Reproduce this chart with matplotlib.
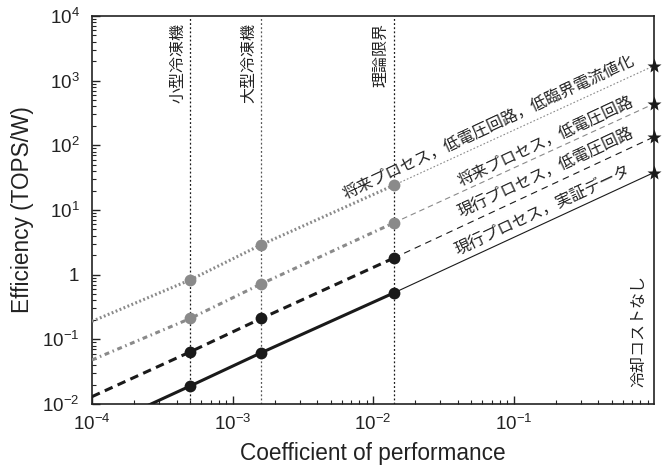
import math
import matplotlib
matplotlib.use("Agg")
import matplotlib.pyplot as plt
import matplotlib.ticker as mticker
import matplotlib.transforms as mtransforms

plt.rcParams['font.family'] = ['Liberation Sans', 'Noto Sans CJK JP']
plt.rcParams['mathtext.default'] = 'regular'

# ---- data ----
cop_points = [5e-4, 1.6e-3, 1.4e-2]          # 小型冷凍機, 大型冷凍機, 理論限界
cop_start = 1e-4
cop_end = 1.0                                 # 冷却コストなし

s1_vals = [0.019, 0.062, 0.52]   # 現行プロセス，実証データ
s2_vals = [0.064, 0.21, 1.8]     # 現行プロセス，低電圧回路
s3_vals = [0.21, 0.72, 6.3]      # 将来プロセス，低電圧回路
s4_vals = [0.83, 2.9, 24.0]      # 将来プロセス，低電圧回路，低臨界電流値化

s1_start, s2_start, s3_start, s4_start = 0.0038, 0.013, 0.048, 0.19
s1_end, s2_end, s3_end, s4_end = 38.0, 135.0, 440.0, 1700.0

vline_labels = ['小型冷凍機', '大型冷凍機', '理論限界']
series_labels = ['現行プロセス，実証データ', '現行プロセス，低電圧回路',
                 '将来プロセス，低電圧回路', '将来プロセス，低電圧回路，低臨界電流値化']
nocost_label = '冷却コストなし'

xtick_vals = [1e-4, 1e-3, 1e-2, 1e-1]
ytick_vals = [1e-2, 1e-1, 1, 1e1, 1e2, 1e3, 1e4]

# ---- figure ----
fig = plt.figure(figsize=(6.65, 4.7), dpi=100)
ax = fig.add_axes([92/665, 66/470, 562/665, 388/470])
ax.set_xscale('log')
ax.set_yscale('log')
ax.set_xlim(1e-4, 1)
ax.set_ylim(1e-2, 1e4)

gray = '#8a8a8a'
black = '#1a1a1a'

# vertical reference lines
vcolors = [black, '#555555', black]
for c, vc in zip(cop_points, vcolors):
    ax.axvline(c, color=vc, lw=0.9, ls=(0, (1.5, 1.8)), zorder=1)

series = [
    (s1_start, s1_vals, s1_end, black, dict(ls='-'), dict(ls='-')),
    (s2_start, s2_vals, s2_end, black, dict(dashes=(2.8, 1.8)), dict(dashes=(6, 4.5))),
    (s3_start, s3_vals, s3_end, gray, dict(dashes=(1.6, 1.2, 0.5, 1.2)), dict(dashes=(5, 3.5))),
    (s4_start, s4_vals, s4_end, gray, dict(dashes=(0.6, 0.8)), dict(dashes=(1.5, 1.8))),
]

for start, vals, end, col, thick_style, thin_style in series:
    xs = [cop_start] + cop_points
    ys = [start] + vals
    ax.plot(xs, ys, color=col, lw=2.2, solid_capstyle='butt', dash_capstyle='butt',
            zorder=3, **thick_style)
    ax.plot([cop_points[-1], cop_end], [vals[-1], end], color=col,
            lw=0.8, zorder=3, **thin_style)
    ax.plot(cop_points, vals, 'o', color=col, ms=8.5, mec='none', zorder=4)
    ax.plot([cop_end], [end], marker='*', color=black, ms=11, mec='none',
            clip_on=False, zorder=5)

# series labels
label_pos = [(0.163, 9.7), (0.171, 37.7), (0.171, 114), (0.0665, 186)]
for (lx, ly), txt in zip(label_pos, series_labels):
    ax.text(lx, ly, txt, rotation=25, rotation_mode='anchor', ha='center', va='center',
            fontsize=11.5, family=['Noto Sans CJK JP'], color='#222222', zorder=6)

# vertical labels
trans = mtransforms.blended_transform_factory(ax.transData, ax.transAxes)
for c, txt in zip(cop_points, vline_labels):
    ax.annotate(txt, xy=(c, 1), xycoords=trans, xytext=(-3, -5), textcoords='offset points',
                rotation=90, ha='right', va='top', fontsize=11.5,
                family=['Noto Sans CJK JP'], color='#222222')

ax.annotate(nocost_label, xy=(1, 0), xycoords='axes fraction', xytext=(-5, 12),
            textcoords='offset points', rotation=90, ha='right', va='bottom',
            fontsize=11.5, family=['Noto Sans CJK JP'], color='#222222')

# ticks
def yfmt(v, pos):
    e = int(round(math.log10(v)))
    return '1' if e == 0 else r'$\mathregular{10^{%d}}$' % e

def xfmt(v, pos):
    e = int(round(math.log10(v)))
    return r'$\mathregular{10^{%d}}$' % e

ax.set_xticks(xtick_vals)
ax.set_yticks(ytick_vals)
ax.xaxis.set_major_formatter(mticker.FuncFormatter(xfmt))
ax.yaxis.set_major_formatter(mticker.FuncFormatter(yfmt))
ax.xaxis.set_minor_locator(mticker.LogLocator(base=10, subs=range(2, 10), numticks=20))
ax.yaxis.set_minor_locator(mticker.LogLocator(base=10, subs=range(2, 10), numticks=20))
ax.xaxis.set_minor_formatter(mticker.NullFormatter())
ax.yaxis.set_minor_formatter(mticker.NullFormatter())
ax.tick_params(which='both', direction='in', top=False, right=False, colors='#222222',
               labelsize=13.5)
ax.tick_params(which='major', length=6, width=1.0)
ax.tick_params(axis='y', which='major', pad=9)
ax.tick_params(axis='x', which='major', pad=7)
ax.tick_params(which='minor', length=3, width=0.8)
for sp in ax.spines.values():
    sp.set_linewidth(1.2)
    sp.set_color('#222222')

ax.set_xlabel('Coefficient of performance', fontsize=16.3, labelpad=6, color='#222222')
ax.set_ylabel('Efficiency (TOPS/W)', fontsize=16.3, labelpad=6, color='#222222')

fig.savefig('out.png', dpi=100)
